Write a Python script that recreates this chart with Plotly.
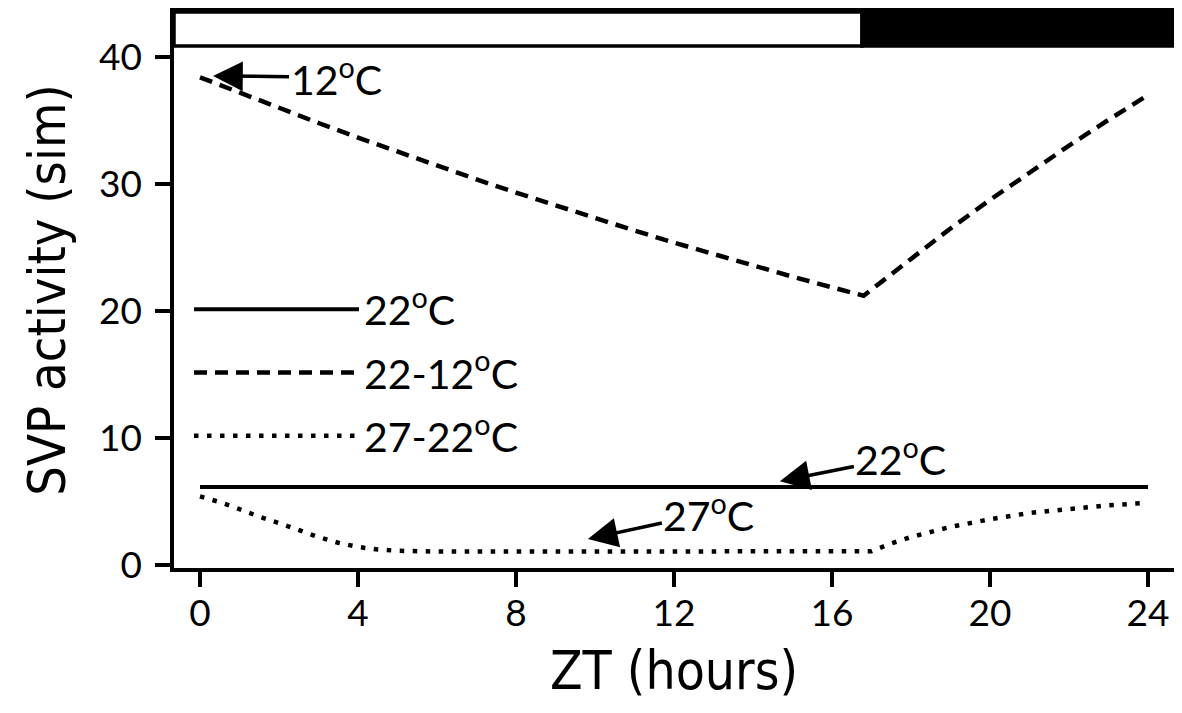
import plotly.graph_objects as go

# ---------------- data ----------------
zt_solid = [0, 24]
svp_22 = [6.15, 6.15]

zt_dash = [0, 1, 2, 3, 4, 5, 6, 7, 8, 9, 10, 11, 12, 13, 14, 15, 16, 16.8,
           18, 19, 20, 21, 22, 23, 24]
svp_22_12 = [38.4, 37.18, 35.98, 34.80, 33.65, 32.53, 31.44, 30.36, 29.32, 28.30,
             27.30, 26.33, 25.38, 24.46, 23.57, 22.70, 21.86, 21.2,
             24.10, 26.50, 28.75, 30.92, 33.02, 35.05, 37.0]

zt_dot = [0, 0.5, 1, 1.5, 2, 2.5, 3, 3.5, 4, 4.5, 5, 6, 8, 10, 12, 14, 16, 17,
          17.5, 18, 19, 20, 21, 22, 23, 24]
svp_27_22 = [5.4, 4.95, 4.4, 3.8, 3.3, 2.75, 2.2, 1.75, 1.42, 1.22, 1.12, 1.06, 1.05,
             1.05, 1.05, 1.05, 1.05, 1.08, 1.7, 2.2, 3.0, 3.6, 4.1, 4.4, 4.7, 4.9]

series_names = ["22<sup>o</sup>C", "22-12<sup>o</sup>C", "27-22<sup>o</sup>C"]
x_ticks = [0, 4, 8, 12, 16, 20, 24]
y_ticks = [0, 10, 20, 30, 40]
lights_off = 16.76   # ZT where the dark bar starts

# annotations: label, arrow-tip x, arrow-tip y, text offset (px)
notes = [("12<sup>o</sup>C", 0.33, 38.5, 123, 1),
         ("22<sup>o</sup>C", 14.68, 6.6, 121, -24),
         ("27<sup>o</sup>C", 9.82, 2.05, 121, -26)]

# ---------------- figure ----------------
X_RANGE = [-0.658, 24.658]
Y_RANGE = [-0.236, 43.54]
BAR_BOTTOM = 40.87
TITLE_FONT = "Arial Narrow, Liberation Sans Narrow, DejaVu Sans Condensed, Roboto"

fig = go.Figure()
fig.add_trace(go.Scatter(x=zt_solid, y=svp_22, mode="lines", name=series_names[0],
                         legendgroup="a", line=dict(color="black", width=4)))
fig.add_trace(go.Scatter(x=zt_dash, y=svp_22_12, mode="lines", name=series_names[1],
                         legendgroup="b", line=dict(color="black", width=4.5, dash="13px,8px")))
fig.add_trace(go.Scatter(x=zt_dot, y=svp_27_22, mode="lines", name=series_names[2],
                         legendgroup="c", line=dict(color="black", width=4.5, dash="4.5px,8.5px")))

# day / night bar
fig.add_shape(type="rect", xref="x", yref="y", x0=X_RANGE[0], x1=lights_off,
              y0=BAR_BOTTOM, y1=Y_RANGE[1], fillcolor="white",
              line=dict(color="black", width=3.5), layer="above")
fig.add_shape(type="rect", xref="x", yref="y", x0=lights_off, x1=X_RANGE[1],
              y0=BAR_BOTTOM, y1=Y_RANGE[1], fillcolor="black",
              line=dict(color="black", width=3.5), layer="above")

for txt, xt, yt, ax, ay in notes:
    fig.add_annotation(x=xt, y=yt, text=txt, showarrow=True, ax=ax, ay=ay,
                       arrowhead=2, arrowsize=1.7, arrowwidth=3.5, arrowcolor="black",
                       font=dict(family="Lato", size=41, color="black"))

# the page body adds an 8px offset, so the figure is 8px smaller than the window
fig.update_layout(
    width=1174, height=705,
    margin=dict(l=166, r=8, t=4, b=145),
    paper_bgcolor="white", plot_bgcolor="white",
    showlegend=True,
    legend=dict(x=0.015, y=0.525, xanchor="left", yanchor="top",
                font=dict(family="Lato", size=41, color="black"),
                itemwidth=165, bgcolor="rgba(0,0,0,0)", tracegroupgap=7),
)
fig.update_xaxes(range=X_RANGE, tickvals=x_ticks, ticktext=[str(v) for v in x_ticks],
                 automargin=False,
                 showgrid=False, zeroline=False, showline=True, mirror=True,
                 linecolor="black", linewidth=3.5, ticks="outside", ticklen=15,
                 tickwidth=3.5, tickcolor="black", ticklabelstandoff=-5,
                 tickfont=dict(family="Lato", size=37, color="black"),
                 title=dict(text="ZT (hours)", standoff=20,
                            font=dict(family=TITLE_FONT, size=53, color="black")))
fig.update_yaxes(range=Y_RANGE, tickvals=y_ticks, ticktext=[str(v) for v in y_ticks],
                 automargin=False,
                 showgrid=False, zeroline=False, showline=True, mirror=True,
                 linecolor="black", linewidth=3.5, ticks="outside", ticklen=15,
                 tickwidth=3.5, tickcolor="black", ticklabelstandoff=6,
                 tickfont=dict(family="Lato", size=37, color="black"),
                 title=dict(text="SVP activity (sim)", standoff=18,
                            font=dict(family=TITLE_FONT, size=52, color="black")))

fig.write_html("out.html")
